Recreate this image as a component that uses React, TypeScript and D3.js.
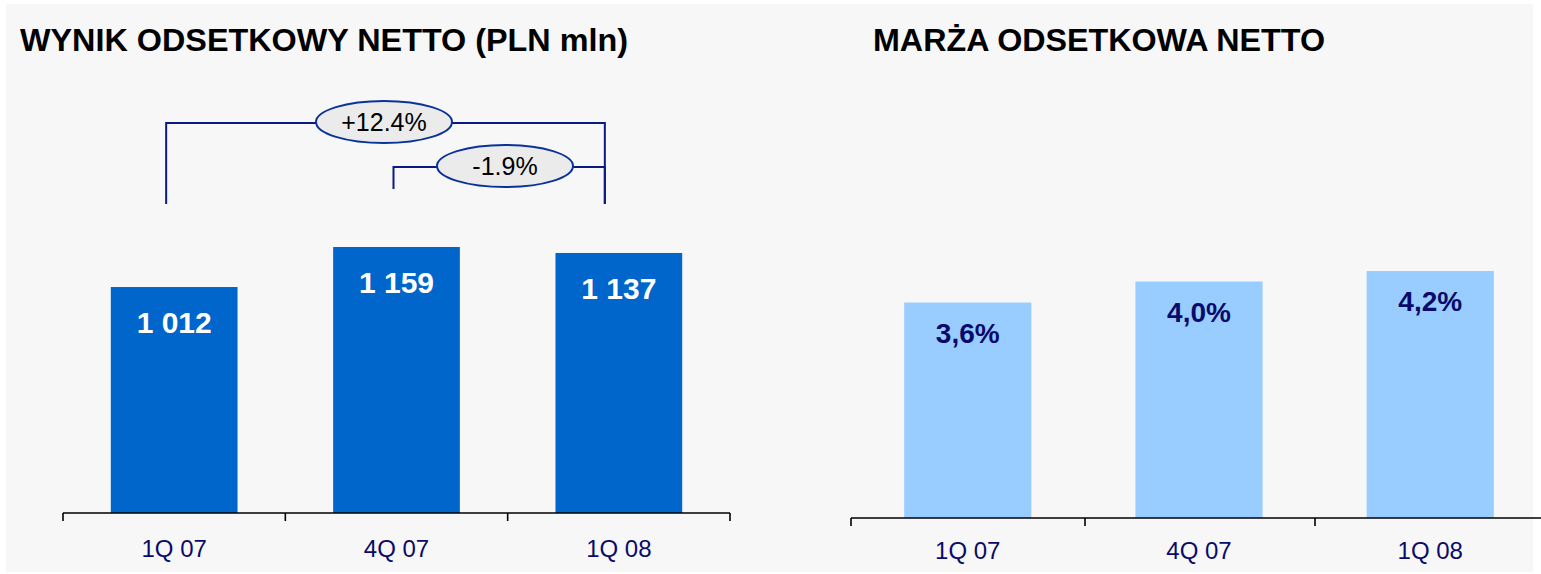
import React, { useEffect, useRef } from "react";
import * as d3 from "d3";

const quarters = ["1Q 07", "4Q 07", "1Q 08"];
const netInterest = [1012, 1159, 1137];
const netInterestLabels = ["1 012", "1 159", "1 137"];
const margin = [3.6, 4.0, 4.2];
const marginLabels = ["3,6%", "4,0%", "4,2%"];
const changes = [
  { from: 0, to: 2, label: "+12.4%" },
  { from: 1, to: 2, label: "-1.9%" },
];

const W = 1541;
const H = 574;
const FONT = "Liberation Sans, Arial, sans-serif";
const NAVY = "#0a0a6a";

const App = () => {
  const svgRef = useRef<SVGSVGElement>(null);

  useEffect(() => {
    const svg = d3.select(svgRef.current);
    svg.selectAll("*").remove();

    svg
      .append("rect")
      .attr("x", 6)
      .attr("y", 4)
      .attr("width", 1527)
      .attr("height", 568)
      .attr("fill", "#f7f7f7");

    // left chart
    const x1 = d3.scaleBand().domain(quarters).range([63, 730]).paddingInner(0.43).paddingOuter(0.215);
    const y1 = d3.scaleLinear().domain([182, 1159]).range([513, 247]);
    const axisY1 = 513;

    svg
      .append("text")
      .attr("x", 20)
      .attr("y", 51)
      .attr("font-family", FONT)
      .attr("font-weight", "bold")
      .attr("font-size", 32)
      .attr("textLength", 608)
      .attr("lengthAdjust", "spacingAndGlyphs")
      .attr("fill", "#000")
      .text("WYNIK ODSETKOWY NETTO (PLN mln)");

    const g1 = svg.append("g");
    g1.selectAll("rect")
      .data(netInterest)
      .enter()
      .append("rect")
      .attr("x", (d, i) => x1(quarters[i])!)
      .attr("y", (d) => y1(d))
      .attr("width", x1.bandwidth())
      .attr("height", (d) => axisY1 - y1(d))
      .attr("fill", "#0066cc");

    g1.selectAll("text.val")
      .data(netInterest)
      .enter()
      .append("text")
      .attr("class", "val")
      .attr("x", (d, i) => x1(quarters[i])! + x1.bandwidth() / 2)
      .attr("y", (d) => y1(d) + 46)
      .attr("text-anchor", "middle")
      .attr("font-family", FONT)
      .attr("font-weight", "bold")
      .attr("font-size", 30)
      .attr("fill", "#fff")
      .text((d, i) => netInterestLabels[i]);

    const drawAxis = (x: d3.ScaleBand<string>, y: number, x0: number, x1e: number, ticks: number[], dy: number) => {
      const g = svg.append("g");
      g.append("line")
        .attr("x1", x0)
        .attr("x2", x1e)
        .attr("y1", y)
        .attr("y2", y)
        .attr("stroke", "#000")
        .attr("stroke-width", 1.6);
      ticks.forEach((t) => {
        g.append("line")
          .attr("x1", t)
          .attr("x2", t)
          .attr("y1", y)
          .attr("y2", y + 8)
          .attr("stroke", "#000")
          .attr("stroke-width", 1.6);
      });
      quarters.forEach((q) => {
        g.append("text")
          .attr("x", x(q)! + x.bandwidth() / 2)
          .attr("y", y + dy)
          .attr("text-anchor", "middle")
          .attr("font-family", FONT)
          .attr("font-size", 24)
          .attr("fill", NAVY)
          .text(q);
      });
    };

    const ticks1 = [0, 1, 2, 3].map((i) => 63 + i * (667 / 3));
    drawAxis(x1, axisY1, 63, 730, ticks1, 44);

    // change brackets
    const center = (i: number) => x1(quarters[i])! + x1.bandwidth() / 2;
    const levels = [123, 167];
    const drops = [204, 189];
    const ellipseCx = [384, 505];
    changes.forEach((c, k) => {
      const xa = c.from === 0 ? center(c.from) - 8 : center(c.from) - 3;
      const xb = center(c.to) - 14;
      const ly = levels[k];
      svg
        .append("path")
        .attr("d", `M${xa},${drops[k]} V${ly} H${xb} V204`)
        .attr("fill", "none")
        .attr("stroke", "#0a1a80")
        .attr("stroke-width", 2);
      svg
        .append("ellipse")
        .attr("cx", ellipseCx[k])
        .attr("cy", ly - 1)
        .attr("rx", 68)
        .attr("ry", 21)
        .attr("fill", "#ebebeb")
        .attr("stroke", "#0a3399")
        .attr("stroke-width", 2);
      svg
        .append("text")
        .attr("x", ellipseCx[k])
        .attr("y", ly + 8)
        .attr("text-anchor", "middle")
        .attr("font-family", FONT)
        .attr("font-size", 25)
        .attr("fill", "#000")
        .text(c.label);
    });

    // right chart
    const x2 = d3.scaleBand().domain(quarters).range([851, 1547]).paddingInner(0.45).paddingOuter(0.23);
    const y2 = d3.scaleLinear().domain([-0.5, 4.2]).range([518, 271]);
    const axisY2 = 518;

    svg
      .append("text")
      .attr("x", 873)
      .attr("y", 51)
      .attr("font-family", FONT)
      .attr("font-weight", "bold")
      .attr("font-size", 32)
      .attr("textLength", 452)
      .attr("lengthAdjust", "spacingAndGlyphs")
      .attr("fill", "#000")
      .text("MARŻA ODSETKOWA NETTO");

    const g2 = svg.append("g");
    g2.selectAll("rect")
      .data(margin)
      .enter()
      .append("rect")
      .attr("x", (d, i) => x2(quarters[i])!)
      .attr("y", (d) => y2(d))
      .attr("width", x2.bandwidth())
      .attr("height", (d) => axisY2 - y2(d))
      .attr("fill", "#99ccff");

    g2.selectAll("text.val")
      .data(margin)
      .enter()
      .append("text")
      .attr("class", "val")
      .attr("x", (d, i) => x2(quarters[i])! + x2.bandwidth() / 2)
      .attr("y", (d) => y2(d) + 40)
      .attr("text-anchor", "middle")
      .attr("font-family", FONT)
      .attr("font-weight", "bold")
      .attr("font-size", 28)
      .attr("fill", NAVY)
      .text((d, i) => marginLabels[i]);

    drawAxis(x2, axisY2, 851, 1541, [851, 1085, 1315], 41);
  }, []);

  return (
    <svg
      ref={svgRef}
      width={W}
      height={H}
      style={{ position: "absolute", left: 0, top: 0, background: "#fff" }}
    />
  );
};

export default App;
